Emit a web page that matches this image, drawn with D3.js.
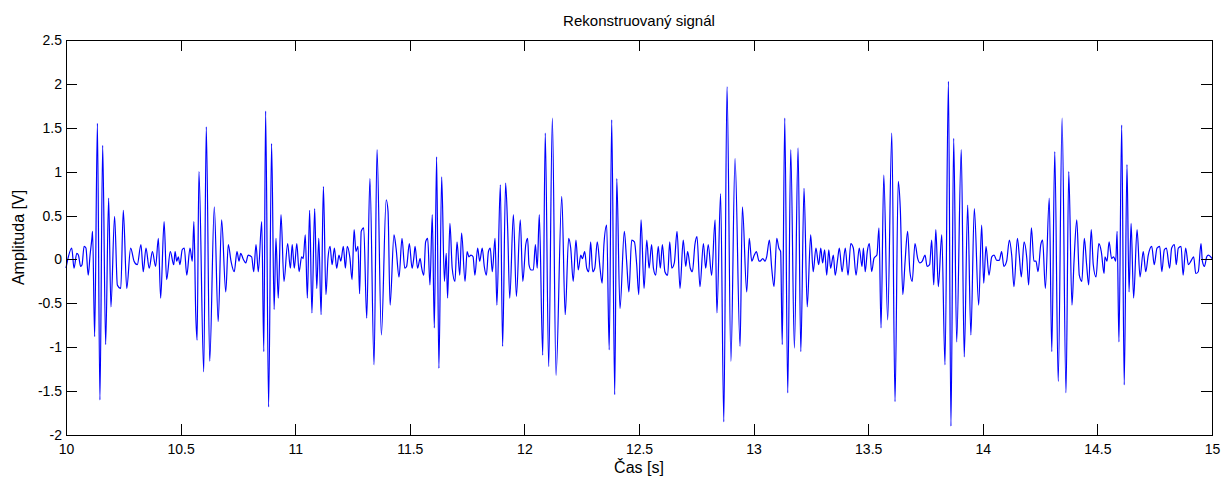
<!DOCTYPE html>
<html>
<head>
<meta charset="utf-8">
<script src="https://cdn.jsdelivr.net/npm/d3@7"></script>
<style>
  body { margin: 0; background: #fff; }
  text { font-family: Arial, "Liberation Sans", sans-serif; fill: #000; }
</style>
</head>
<body>
<script>
// Time in seconds (one line per ~0.5 s stretch)
const time = [
  10.000,10.006,10.025,10.035,10.047,10.054,10.064,10.070,10.079,10.087,10.097,10.105,10.113,10.116,10.125,10.137,10.148,10.160,10.173,10.186,10.196,10.212,10.224,10.239,10.250,10.265,10.282,10.297,10.311,10.327,10.337,10.349,10.363,10.377,10.391,10.403,10.413,10.428,10.439,10.455,10.470,
  10.476,10.483,10.490,10.497,10.507,10.516,10.527,10.541,10.551,10.558,10.566,10.572,10.580,10.601,10.612,10.627,10.647,10.664,10.679,10.697,10.708,10.720,10.734,10.746,10.755,10.762,10.774,10.784,10.795,10.810,10.819,10.829,10.839,10.854,10.863,10.871,10.884,10.897,10.908,10.916,10.926,10.938,10.951,10.967,10.979,10.987,10.996,11.007,11.017,
  11.028,11.035,11.044,11.053,11.063,11.073,11.085,11.094,11.103,11.113,11.123,11.134,11.143,11.152,11.161,11.171,11.181,11.191,11.199,11.210,11.219,11.227,11.239,11.248,11.257,11.265,11.274,11.281,11.288,11.299,11.312,11.326,11.344,11.357,11.376,11.397,11.405,11.414,11.431,11.440,11.453,11.466,11.478,11.486,11.498,11.510,11.518,
  11.523,11.534,11.545,11.552,11.561,11.569,11.578,11.588,11.598,11.607,11.617,11.627,11.639,11.651,11.659,11.665,11.675,11.685,11.697,11.706,11.718,11.726,11.741,11.750,11.758,11.767,11.776,11.784,11.796,11.805,11.816,11.825,11.834,11.843,11.851,11.860,11.872,11.880,11.895,11.905,11.918,11.927,11.936,11.952,11.965,11.982,11.993,12.006,12.014,12.020,
  12.029,12.039,12.048,12.056,12.065,12.080,12.091,12.106,12.122,12.138,12.163,12.178,12.193,12.202,12.213,12.225,12.235,12.246,12.253,12.263,12.272,12.281,12.289,12.298,12.307,12.318,12.330,12.339,12.347,12.359,12.370,12.381,12.394,12.403,12.417,12.436,12.446,12.456,12.468,12.480,12.490,12.499,12.509,12.522,
  12.534,12.544,12.555,12.563,12.573,12.584,12.593,12.602,12.613,12.625,12.634,12.643,12.654,12.666,12.679,12.693,12.704,12.712,12.724,12.733,12.744,12.753,12.766,12.781,12.791,12.802,12.817,12.832,12.840,12.856,12.870,12.884,12.901,12.919,12.941,12.951,12.970,12.981,12.992,13.003,13.012,13.024,
  13.028,13.040,13.050,13.057,13.069,13.079,13.089,13.101,13.110,13.118,13.125,13.136,13.149,13.162,13.178,13.194,13.206,13.220,13.234,13.249,13.260,13.272,13.284,13.293,13.301,13.310,13.319,13.328,13.336,13.348,13.356,13.367,13.374,13.386,13.400,13.412,13.424,13.435,13.447,13.461,13.473,13.479,13.487,13.496,13.505,13.515,13.525,
  13.530,13.538,13.547,13.556,13.568,13.585,13.603,13.617,13.631,13.640,13.651,13.661,13.672,13.682,13.692,13.704,13.716,13.726,13.736,13.748,13.757,13.768,13.777,13.786,13.795,13.806,13.821,13.835,13.850,13.861,13.873,13.886,13.906,13.919,13.934,13.948,13.963,13.982,13.995,14.004,14.014,14.027,
  14.039,14.049,14.061,14.072,14.082,14.092,14.104,14.116,14.126,14.136,14.151,14.159,14.168,14.180,14.192,14.200,14.212,14.223,14.232,14.241,14.253,14.261,14.273,14.290,14.301,14.314,14.329,14.346,14.363,14.375,14.389,14.398,14.410,14.421,14.432,14.443,14.453,14.462,14.473,14.482,14.494,14.506,14.517,14.529,
  14.533,14.542,14.551,14.562,14.571,14.580,14.586,14.594,14.606,14.617,14.629,14.638,14.647,14.658,14.673,14.686,14.700,14.711,14.722,14.737,14.748,14.760,14.772,14.781,14.792,14.801,14.815,14.824,14.836,14.844,14.853,14.865,14.874,14.885,14.897,14.908,14.920,14.929,14.940,14.952,14.958,14.967,14.977,14.984,15.000
];

// Amplitude in volts, same order as time
const amplitude = [
  -0.10,-0.02,0.13,-0.10,0.07,0.05,-0.08,-0.06,0.15,0.13,-0.18,0.05,0.24,0.32,-0.88,1.55,-1.60,1.30,-0.97,0.70,-0.54,0.49,-0.29,-0.33,0.56,-0.33,0.13,-0.02,-0.06,0.17,-0.14,0.13,-0.10,0.09,-0.08,0.24,-0.44,0.43,-0.23,0.09,-0.06,
  0.09,-0.02,0.03,-0.06,0.11,0.13,-0.18,0.13,-0.02,0.43,-0.61,-0.92,1.00,-1.28,1.51,-1.16,0.60,-0.71,0.45,-0.37,0.17,-0.02,-0.14,0.09,-0.02,0.07,0.00,-0.04,0.05,0.03,-0.14,0.17,-0.14,0.43,-1.05,1.69,-1.68,1.32,-0.57,0.24,-0.44,0.51,-0.25,0.18,-0.10,0.17,-0.10,0.18,-0.14,
  0.03,0.01,0.28,-0.44,0.56,-0.61,0.58,-0.33,0.24,-0.63,0.83,-0.40,0.01,0.15,-0.06,0.13,-0.10,0.05,-0.02,0.15,-0.10,0.15,0.01,-0.23,0.34,0.09,0.15,-0.39,0.32,0.36,-0.67,0.92,-1.20,1.25,-0.86,0.68,0.55,-0.52,0.28,0.13,-0.20,0.24,-0.10,-0.08,0.18,-0.10,0.03,
  0.15,-0.10,0.01,-0.10,-0.18,0.20,0.24,-0.29,0.51,-0.78,1.17,-1.24,0.94,-0.25,0.07,-0.44,0.41,-0.10,-0.25,0.20,-0.18,0.30,-0.25,0.09,0.03,0.05,0.03,-0.18,0.13,-0.02,0.13,-0.08,-0.18,0.09,0.13,-0.14,0.24,-0.52,0.85,-0.99,0.87,0.35,-0.44,0.51,-0.42,0.45,-0.25,0.17,0.24,-0.06,
  -0.12,-0.12,0.17,-0.10,0.51,-1.09,1.44,-1.22,1.61,-1.32,0.72,-0.63,0.24,0.13,-0.25,0.22,-0.12,0.05,0.01,0.09,-0.10,-0.14,0.20,-0.14,-0.10,0.20,-0.10,-0.27,0.17,0.39,-1.03,1.59,-1.54,0.92,-0.56,0.32,-0.02,-0.37,0.22,0.20,-0.06,-0.40,0.45,-0.33,
  0.22,-0.10,0.17,-0.10,-0.18,0.15,-0.10,0.17,-0.14,-0.18,0.20,-0.10,-0.04,0.32,-0.33,0.22,-0.08,0.09,-0.10,-0.14,0.17,0.26,-0.31,0.18,-0.10,0.17,-0.18,0.45,-0.61,0.75,-1.85,1.97,-1.16,1.15,-0.99,0.60,-0.37,0.24,-0.02,0.05,0.09,-0.02,
  -0.02,0.01,-0.02,0.03,0.22,-0.10,-0.31,0.24,0.13,0.09,-0.97,1.61,-1.52,1.25,-1.01,1.27,-1.05,0.81,-0.54,0.28,-0.14,0.13,-0.06,0.13,-0.04,0.11,-0.18,0.11,-0.10,0.05,-0.18,0.01,0.13,-0.14,0.13,-0.18,0.18,0.13,-0.18,0.13,-0.08,0.13,-0.14,0.09,0.18,-0.14,0.01,
  0.03,0.05,0.36,-0.78,0.96,-0.69,1.44,-1.62,0.89,0.58,-0.40,-0.02,0.32,-0.14,-0.25,0.18,0.01,-0.04,-0.02,0.05,-0.08,-0.06,0.22,-0.29,0.34,-0.31,0.28,-1.20,2.03,-1.90,1.38,-0.94,1.25,-1.11,0.62,-0.86,0.58,-0.52,0.39,-0.27,0.15,-0.18,
  0.03,0.05,-0.01,-0.01,0.09,-0.08,-0.02,0.22,0.05,-0.31,0.24,0.05,-0.20,0.20,0.01,-0.29,0.36,-0.02,-0.02,-0.14,0.17,0.22,-0.33,0.70,-1.05,1.23,-1.39,1.61,-1.52,1.00,-0.52,-0.02,0.45,-0.18,-0.25,0.24,-0.06,-0.29,0.34,-0.06,-0.20,0.18,0.09,-0.16,
  0.03,-0.02,0.20,0.01,0.03,-0.02,0.32,-0.94,1.53,-1.43,1.08,-0.37,0.41,-0.44,0.34,-0.20,0.09,-0.14,0.05,0.15,-0.06,0.13,0.15,-0.14,0.11,0.13,-0.10,0.13,0.17,-0.06,0.13,0.15,-0.18,0.13,-0.06,-0.02,0.03,-0.16,-0.14,0.18,-0.02,-0.08,0.03,0.05,0.01
];

// Tick labels
const xTicks = [10, 10.5, 11, 11.5, 12, 12.5, 13, 13.5, 14, 14.5, 15];
const yTicks = [-2, -1.5, -1, -0.5, 0, 0.5, 1, 1.5, 2, 2.5];

const title = 'Rekonstruovaný signál';
const xLabel = 'Čas [s]';
const yLabel = 'Amplituda [V]';

// Layout
const width = 1231;
const height = 485;
const margin = { top: 40, right: 19, bottom: 50, left: 66 };
const innerW = width - margin.left - margin.right;
const innerH = height - margin.top - margin.bottom;
const tickLen = 11;

const svg = d3.select('body')
  .append('svg')
  .attr('width', width)
  .attr('height', height);

const x = d3.scaleLinear()
  .domain([10, 15])
  .range([0, innerW]);

const y = d3.scaleLinear()
  .domain([-2, 2.5])
  .range([innerH, 0]);

const g = svg.append('g')
  .attr('transform', `translate(${margin.left},${margin.top})`);

// Signal
const points = d3.zip(time, amplitude);
const line = d3.line()
  .x(d => x(d[0]))
  .y(d => y(d[1]))
  .curve(d3.curveMonotoneX);

g.append('path')
  .datum(points)
  .attr('fill', 'none')
  .attr('stroke', '#0000ff')
  .attr('stroke-width', 1.2)
  .attr('stroke-linejoin', 'round')
  .attr('d', line);

// Axes (MATLAB-like box with inward ticks)
const fmt = d => String(d);

g.append('g')
  .attr('transform', `translate(0,${innerH})`)
  .call(d3.axisBottom(x).tickValues(xTicks).tickFormat(fmt).tickSize(-tickLen).tickPadding(9));

g.append('g')
  .call(d3.axisTop(x).tickValues(xTicks).tickFormat('').tickSize(-tickLen));

g.append('g')
  .call(d3.axisLeft(y).tickValues(yTicks).tickFormat(fmt).tickSize(-tickLen).tickPadding(4));

g.append('g')
  .attr('transform', `translate(${innerW},0)`)
  .call(d3.axisRight(y).tickValues(yTicks).tickFormat('').tickSize(-tickLen));

g.selectAll('.domain, .tick line')
  .attr('stroke', '#000')
  .attr('shape-rendering', 'crispEdges');

g.selectAll('.tick text')
  .style('font-size', '14px')
  .style('font-family', 'Arial, "Liberation Sans", sans-serif')
  .attr('fill', '#000');

// Texts
svg.append('text')
  .attr('x', margin.left + innerW / 2)
  .attr('y', 26)
  .attr('text-anchor', 'middle')
  .style('font-size', '15px')
  .text(title);

svg.append('text')
  .attr('x', margin.left + innerW / 2)
  .attr('y', 473)
  .attr('text-anchor', 'middle')
  .style('font-size', '16px')
  .text(xLabel);

svg.append('text')
  .attr('transform', `translate(24,${margin.top + innerH / 2}) rotate(-90)`)
  .attr('text-anchor', 'middle')
  .style('font-size', '16px')
  .text(yLabel);
</script>
</body>
</html>
